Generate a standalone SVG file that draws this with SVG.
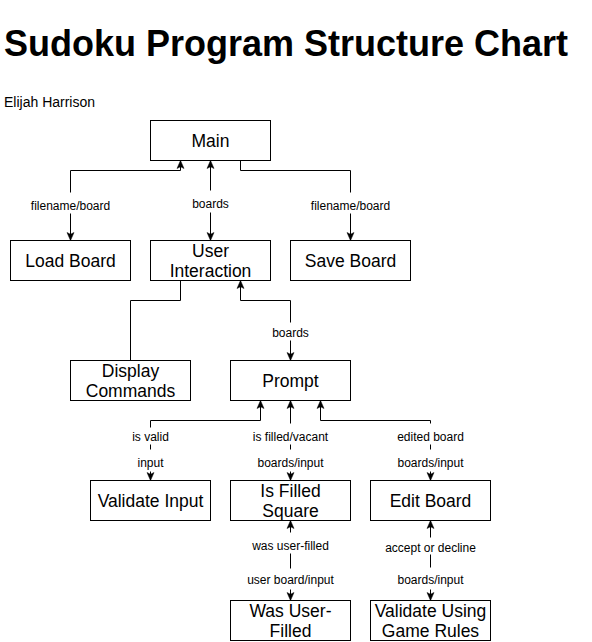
<svg xmlns="http://www.w3.org/2000/svg" width="592" height="642" viewBox="0 0 592 642">
<style>
.box{fill:#fff;stroke:#000;stroke-width:1}
.nt{font-family:"Liberation Sans",Arial,sans-serif;font-size:17.5px;fill:#000;text-anchor:middle}
.el{font-family:"Liberation Sans",Arial,sans-serif;font-size:12px;fill:#000;text-anchor:middle}
.ln{fill:none;stroke:#000;stroke-width:1}
.bi{marker-start:url(#arr);marker-end:url(#arr)}
.en{marker-end:url(#arr)}
.bg{fill:#fff;stroke:none}
</style>
<defs>
<marker id="arr" markerUnits="userSpaceOnUse" markerWidth="9" markerHeight="8" refX="8" refY="3.5" orient="auto-start-reverse" overflow="visible">
<path d="M0,0 L8,3.5 L0,7 L1.8,3.5 Z" fill="#000" stroke="#000" stroke-width="0.5"/>
</marker>
</defs>
<rect width="592" height="642" fill="#fff"/>
<text x="4" y="56" font-family="'Liberation Sans',Arial,sans-serif" font-size="36" font-weight="bold" fill="#000">Sudoku Program Structure Chart</text>
<text x="4" y="107" font-family="'Liberation Sans',Arial,sans-serif" font-size="14" fill="#000">Elijah Harrison</text>
<g transform="translate(0.5,0.5)">
<g id="connectors">
<path class="ln bi" d="M180,160 V170 H70 V240"/>
<path class="ln bi" d="M210,160 V240"/>
<path class="ln en" d="M240,160 V170 H350 V240"/>
<path class="ln" d="M180,280 V300 H130 V360"/>
<path class="ln bi" d="M240,280 V300 H290 V360"/>
<path class="ln bi" d="M260,400 V420 H150 V480"/>
<path class="ln bi" d="M290,400 V480"/>
<path class="ln bi" d="M320,400 V420 H430 V480"/>
<path class="ln bi" d="M290,520 V600"/>
<path class="ln bi" d="M430,520 V600"/>
<rect class="bg" x="62" y="192" width="16" height="21"/>
<rect class="bg" x="202" y="190" width="16" height="22"/>
<rect class="bg" x="342" y="192" width="16" height="21"/>
<rect class="bg" x="282" y="322" width="16" height="18"/>
<rect class="bg" x="142" y="427" width="16" height="17"/>
<rect class="bg" x="142" y="449" width="16" height="22"/>
<rect class="bg" x="282" y="423" width="16" height="21"/>
<rect class="bg" x="282" y="449" width="16" height="22"/>
<rect class="bg" x="422" y="423" width="16" height="21"/>
<rect class="bg" x="422" y="449" width="16" height="22"/>
<rect class="bg" x="282" y="532" width="16" height="21"/>
<rect class="bg" x="282" y="568" width="16" height="21"/>
<rect class="bg" x="422" y="537" width="16" height="17"/>
<rect class="bg" x="422" y="567" width="16" height="22"/>
<text class="el" x="70" y="209">filename/board</text>
<text class="el" x="210" y="207.5">boards</text>
<text class="el" x="350" y="209">filename/board</text>
<text class="el" x="290" y="336.5">boards</text>
<text class="el" x="150" y="440">is valid</text>
<text class="el" x="150" y="466">input</text>
<text class="el" x="290" y="440">is filled/vacant</text>
<text class="el" x="290" y="466">boards/input</text>
<text class="el" x="430" y="440.5">edited board</text>
<text class="el" x="430" y="466">boards/input</text>
<text class="el" x="290" y="549">was user-filled</text>
<text class="el" x="290" y="583">user board/input</text>
<text class="el" x="430" y="551.5">accept or decline</text>
<text class="el" x="430" y="583">boards/input</text>
</g>
<g id="main"><rect class="box" x="150" y="120" width="120" height="40"/><text class="nt" x="210" y="146.5">Main</text></g>
<g id="load-board"><rect class="box" x="10" y="240" width="120" height="40"/><text class="nt" x="70" y="266.5">Load Board</text></g>
<g id="user-interaction"><rect class="box" x="150" y="240" width="120" height="40"/><text class="nt" x="210" y="256.7">User</text><text class="nt" x="210" y="276.7">Interaction</text></g>
<g id="save-board"><rect class="box" x="290" y="240" width="120" height="40"/><text class="nt" x="350" y="266.5">Save Board</text></g>
<g id="display-commands"><rect class="box" x="70" y="360" width="120" height="40"/><text class="nt" x="130" y="376.7">Display</text><text class="nt" x="130" y="396.7">Commands</text></g>
<g id="prompt"><rect class="box" x="230" y="360" width="120" height="40"/><text class="nt" x="290" y="386.5">Prompt</text></g>
<g id="validate-input"><rect class="box" x="90" y="480" width="120" height="40"/><text class="nt" x="150" y="506.5">Validate Input</text></g>
<g id="is-filled-square"><rect class="box" x="230" y="480" width="120" height="40"/><text class="nt" x="290" y="496.7">Is Filled</text><text class="nt" x="290" y="516.7">Square</text></g>
<g id="edit-board"><rect class="box" x="370" y="480" width="120" height="40"/><text class="nt" x="430" y="506.5">Edit Board</text></g>
<g id="was-user-filled"><rect class="box" x="230" y="600" width="120" height="40"/><text class="nt" x="290" y="616.7">Was User-</text><text class="nt" x="290" y="636.7">Filled</text></g>
<g id="validate-using-game-rules"><rect class="box" x="370" y="600" width="120" height="40"/><text class="nt" x="430" y="616.7">Validate Using</text><text class="nt" x="430" y="636.7">Game Rules</text></g>
</g>
</svg>
